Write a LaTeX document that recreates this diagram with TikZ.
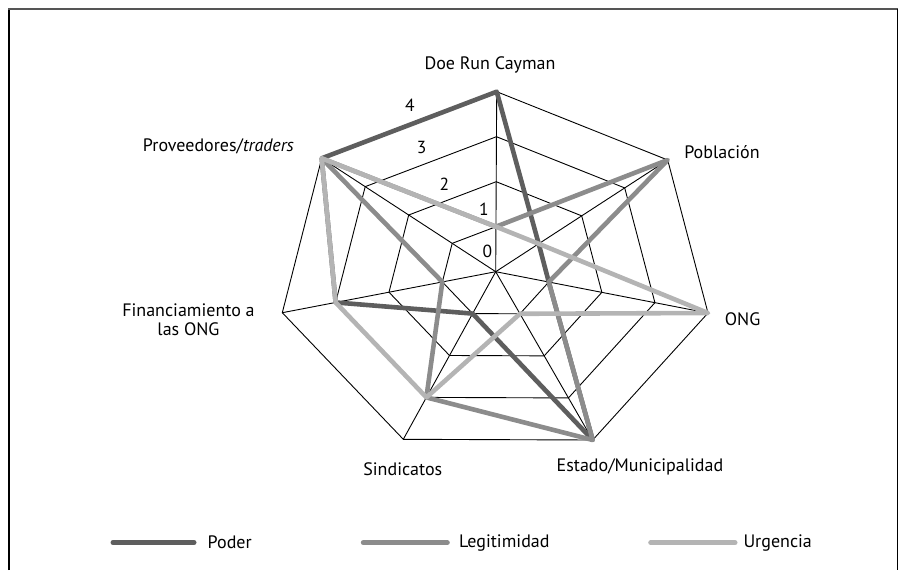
\documentclass[tikz,border=0pt]{standalone}
\usepackage{fontspec}
\setmainfont{PT Sans}
\usetikzlibrary{calc}
\definecolor{poder}{HTML}{5E5E5E}
\definecolor{legit}{HTML}{8C8C8C}
\definecolor{urg}{HTML}{B4B4B4}
\definecolor{framegray}{HTML}{555555}
\begin{document}
\begin{tikzpicture}[x=1pt,y=-1pt,
  gridline/.style={black, line width=0.9pt, line join=miter},
  series/.style={line width=4.6pt, line join=round, line cap=round},
  keyline/.style={line width=5pt, line cap=round},
  lbl/.style={font=\fontsize{18}{19}\selectfont, inner sep=0pt, align=center},
  keylbl/.style={lbl, anchor=west},
  ticklbl/.style={font=\fontsize{17.5}{19}\selectfont, inner sep=0pt},
]
\useasboundingbox (0,0) rectangle (907,570);

% frame
\draw[black, line width=1.3pt] (9,570) -- (9,8.7);
\draw[framegray, line width=2pt] (8.4,8.7) -- (897.5,8.7);
\draw[black, line width=1pt] (897,8.7) -- (897,570);

% centre and outer vertices of the seven axes
\coordinate (O) at (495.7,271.7);
\coordinate (v0) at (496.7,91.7);
\coordinate (v1) at (667.7,160);
\coordinate (v2) at (708,313);
\coordinate (v3) at (592.7,440);
\coordinate (v4) at (403.3,439.3);
\coordinate (v5) at (282.3,312.7);
\coordinate (v6) at (321.7,158.3);

% rings for the values 1 to 4
\foreach \k in {1,2,3,4}{
  \draw[gridline] ($(O)!\k/4!(v0)$) -- ($(O)!\k/4!(v1)$) -- ($(O)!\k/4!(v2)$)
    -- ($(O)!\k/4!(v3)$) -- ($(O)!\k/4!(v4)$) -- ($(O)!\k/4!(v5)$)
    -- ($(O)!\k/4!(v6)$) -- cycle;
}
% spokes
\foreach \i in {0,...,6}{
  \draw[gridline] (O) -- (v\i);
}

% Poder
\draw[series, poder] ($(O)!1!(v0)$) -- ($(O)!.25!(v1)$) -- ($(O)!.25!(v2)$)
  -- ($(O)!1!(v3)$) -- ($(O)!.25!(v4)$) -- ($(O)!.75!(v5)$) -- ($(O)!1!(v6)$) -- cycle;
% Legitimidad
\draw[series, legit] ($(O)!.25!(v0)$) -- ($(O)!1!(v1)$) -- ($(O)!.25!(v2)$)
  -- ($(O)!1!(v3)$) -- ($(O)!.75!(v4)$) -- ($(O)!.25!(v5)$) -- ($(O)!1!(v6)$) -- cycle;
% Urgencia
\draw[series, urg] ($(O)!.25!(v0)$) -- ($(O)!.25!(v1)$) -- ($(O)!1!(v2)$)
  -- ($(O)!.25!(v3)$) -- ($(O)!.75!(v4)$) -- ($(O)!.75!(v5)$) -- ($(O)!1!(v6)$) -- cycle;

% scale values
\node[ticklbl] (t4) at (410,105) {4};
\node[ticklbl] (t3) at (421.7,147.3) {3};
\node[ticklbl] (t2) at (444.3,184) {2};
\node[ticklbl] (t1) at (484,209.3) {1};
\node[ticklbl] (t0) at (487.3,251.7) {0};

% axis names
\node[lbl] (lDoe) at (490,65) {Doe Run Cayman};
\node[lbl] (lPob) at (722,151.7) {Población};
\node[lbl] (lONG) at (742.6,319.3) {ONG};
\node[lbl] (lEst) at (640,466.7) {Estado/Municipalidad};
\node[lbl] (lSin) at (402.8,469.3) {Sindicatos};
\node[lbl] (lFin) at (188.5,320) {Financiamiento a\\las ONG};
\node[lbl] (lPro) at (218.4,146) {Proveedores/\textit{traders}};

% key
\coordinate (k1a) at (113,542.5);
\coordinate (k1b) at (194,542.5);
\coordinate (k2a) at (363.3,542.7);
\coordinate (k2b) at (447.3,542.7);
\coordinate (k3a) at (650.7,542.7);
\coordinate (k3b) at (735,542.7);
\draw[keyline, poder] (k1a) -- (k1b);
\draw[keyline, legit] (k2a) -- (k2b);
\draw[keyline, urg] (k3a) -- (k3b);
\node[keylbl] (kP) at (207.5,542.5) {Poder};
\node[keylbl] (kL) at (459,542.7) {Legitimidad};
\node[keylbl] (kU) at (743.3,542.7) {Urgencia};
\end{tikzpicture}
\end{document}
